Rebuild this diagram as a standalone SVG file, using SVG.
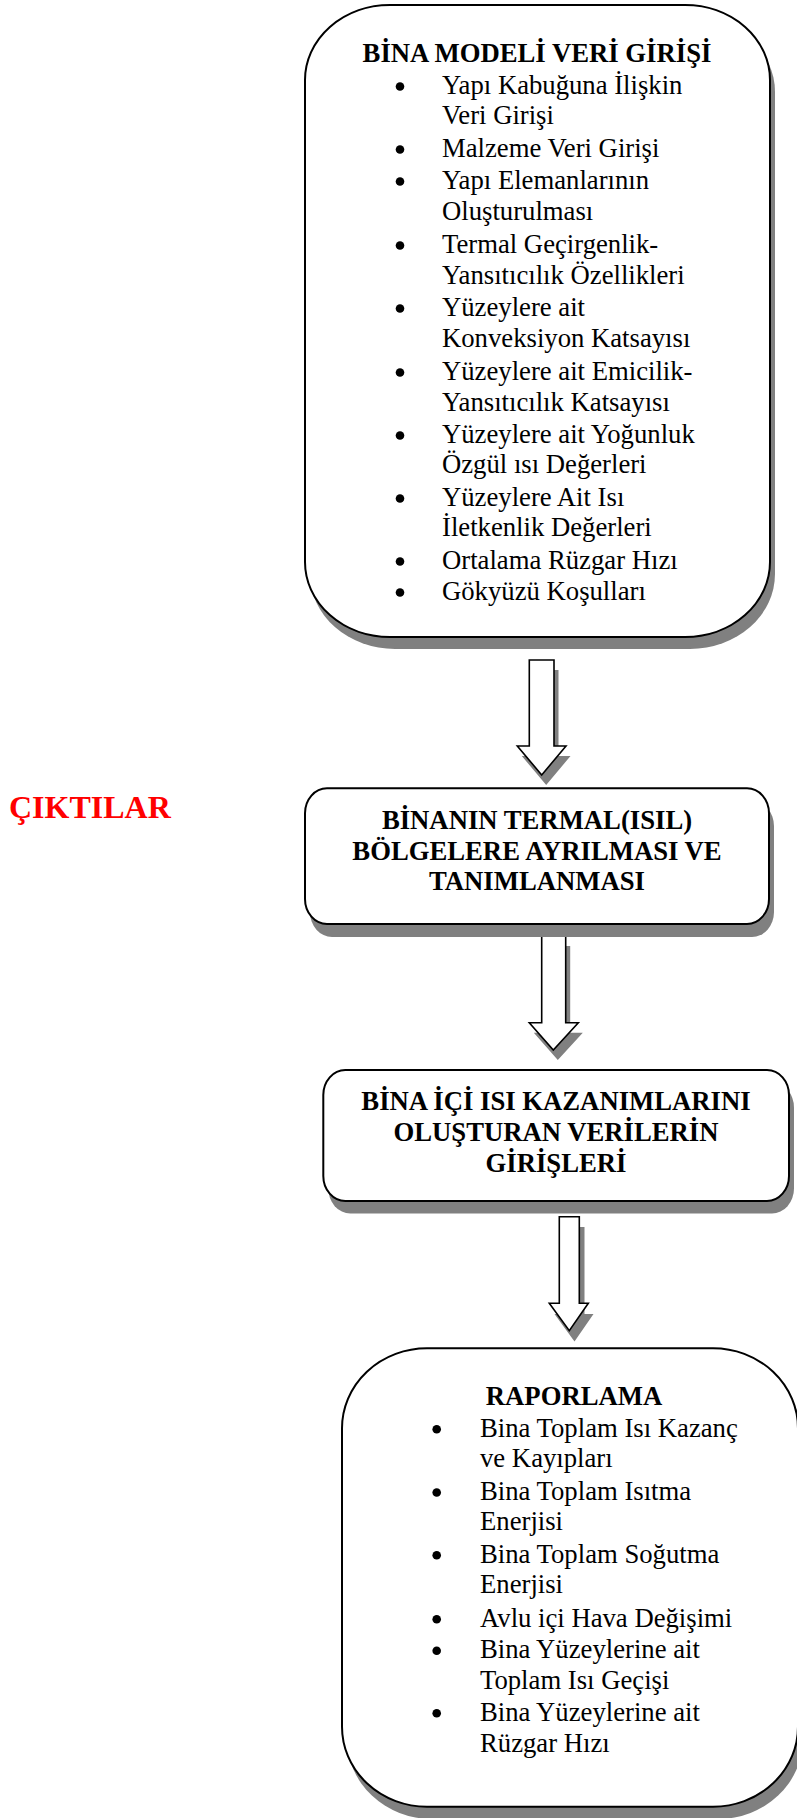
<svg xmlns="http://www.w3.org/2000/svg" width="797" height="1818" viewBox="0 0 797 1818">
<style>
.box{fill:#fff;stroke:#000;stroke-width:2}
.shd{fill:#808080;stroke:none}
.arr{fill:#fff;stroke:#000;stroke-width:1.6;stroke-linejoin:miter}
.dot{fill:#000}
.txt{font-family:'Liberation Serif','Times New Roman',serif;font-size:26.7px;fill:#000}
.hd{font-weight:bold;text-anchor:middle}
.red{font-family:'Liberation Serif','Times New Roman',serif;font-size:32px;font-weight:bold;fill:#ff0000}
</style>
<rect width="797" height="1818" fill="#fff"/>

<g id="label-ciktilar" class="red">
<text x="9" y="818">ÇIKTILAR</text>
</g>

<g id="connectors">
<polygon class="shd" points="534,670 558.5,670 558.5,756 570.5,756 546.2,785 521.8,756 534,756"/>
<polygon class="arr" points="529.3,660 554,660 554,746 566,746 541.7,775 517.3,746 529.3,746"/>
<polygon class="shd" points="546.2,946 570.2,946 570.2,1032.7 582.8,1032.7 557.8,1060 533.8,1032.7 546.2,1032.7"/>
<polygon class="arr" points="541.7,936 565.7,936 565.7,1022.7 578.3,1022.7 553.3,1050 529.3,1022.7 541.7,1022.7"/>
<polygon class="shd" points="564.5,1227 584.5,1227 584.5,1314 593.5,1314 574.5,1341.5 554.5,1314 564.5,1314"/>
<polygon class="arr" points="559.3,1216.7 579.3,1216.7 579.3,1303.3 588.3,1303.3 569.3,1330.7 549.3,1303.3 559.3,1303.3"/>
</g>

<g id="node-bina-modeli" class="txt">
<rect class="shd" x="310" y="17" width="465" height="632" rx="85" ry="75"/>
<rect class="box" x="305" y="5" width="465" height="632" rx="85" ry="75"/>
<text class="hd" x="537" y="62">BİNA MODELİ VERİ GİRİŞİ</text>
<circle class="dot" cx="400" cy="86.5" r="4.3"/>
<circle class="dot" cx="400" cy="149.5" r="4.3"/>
<circle class="dot" cx="400" cy="181.5" r="4.3"/>
<circle class="dot" cx="400" cy="245.5" r="4.3"/>
<circle class="dot" cx="400" cy="308.5" r="4.3"/>
<circle class="dot" cx="400" cy="372.5" r="4.3"/>
<circle class="dot" cx="400" cy="435.5" r="4.3"/>
<circle class="dot" cx="400" cy="498.5" r="4.3"/>
<circle class="dot" cx="400" cy="561.5" r="4.3"/>
<circle class="dot" cx="400" cy="592.5" r="4.3"/>
<text x="442" y="94">Yapı Kabuğuna İlişkin</text>
<text x="442" y="124">Veri Girişi</text>
<text x="442" y="157">Malzeme Veri Girişi</text>
<text x="442" y="189">Yapı Elemanlarının</text>
<text x="442" y="220">Oluşturulması</text>
<text x="442" y="253">Termal Geçirgenlik-</text>
<text x="442" y="284">Yansıtıcılık Özellikleri</text>
<text x="442" y="316">Yüzeylere ait</text>
<text x="442" y="347">Konveksiyon Katsayısı</text>
<text x="442" y="380">Yüzeylere ait Emicilik-</text>
<text x="442" y="411">Yansıtıcılık Katsayısı</text>
<text x="442" y="443">Yüzeylere ait Yoğunluk</text>
<text x="442" y="473">Özgül ısı Değerleri</text>
<text x="442" y="506">Yüzeylere Ait Isı</text>
<text x="442" y="536">İletkenlik Değerleri</text>
<text x="442" y="569">Ortalama Rüzgar Hızı</text>
<text x="442" y="600">Gökyüzü Koşulları</text>
</g>

<g id="node-termal-bolge" class="txt">
<rect class="shd" x="310" y="801" width="464" height="136" rx="22" ry="25"/>
<rect class="box" x="305" y="788.3" width="464" height="135.7" rx="22" ry="25"/>
<text class="hd" x="537" y="829.3">BİNANIN TERMAL(ISIL)</text>
<text class="hd" x="537" y="860">BÖLGELERE AYRILMASI VE</text>
<text class="hd" x="537" y="890">TANIMLANMASI</text>
</g>

<g id="node-isi-kazanim" class="txt">
<rect class="shd" x="328.3" y="1082.5" width="465.7" height="131" rx="22" ry="25"/>
<rect class="box" x="323.3" y="1070" width="465.7" height="131" rx="22" ry="25"/>
<text class="hd" x="556" y="1110">BİNA İÇİ ISI KAZANIMLARINI</text>
<text class="hd" x="556" y="1140.7">OLUŞTURAN VERİLERİN</text>
<text class="hd" x="556" y="1171.7">GİRİŞLERİ</text>
</g>

<g id="node-raporlama" class="txt">
<rect class="shd" x="347" y="1360" width="456" height="459" rx="85" ry="80"/>
<rect class="box" x="342" y="1348.3" width="456" height="458.4" rx="85" ry="80"/>
<text class="hd" x="574" y="1405">RAPORLAMA</text>
<circle class="dot" cx="436.7" cy="1429.2" r="4.3"/>
<circle class="dot" cx="436.7" cy="1492.5" r="4.3"/>
<circle class="dot" cx="436.7" cy="1555.2" r="4.3"/>
<circle class="dot" cx="436.7" cy="1619.2" r="4.3"/>
<circle class="dot" cx="436.7" cy="1650.8" r="4.3"/>
<circle class="dot" cx="436.7" cy="1713.2" r="4.3"/>
<text x="480" y="1436.7">Bina Toplam Isı Kazanç</text>
<text x="480" y="1466.7">ve Kayıpları</text>
<text x="480" y="1500">Bina Toplam Isıtma</text>
<text x="480" y="1530">Enerjisi</text>
<text x="480" y="1562.7">Bina Toplam Soğutma</text>
<text x="480" y="1593.3">Enerjisi</text>
<text x="480" y="1626.7">Avlu içi Hava Değişimi</text>
<text x="480" y="1658.3">Bina Yüzeylerine ait</text>
<text x="480" y="1689.3">Toplam Isı Geçişi</text>
<text x="480" y="1720.7">Bina Yüzeylerine ait</text>
<text x="480" y="1751.7">Rüzgar Hızı</text>
</g>
</svg>
